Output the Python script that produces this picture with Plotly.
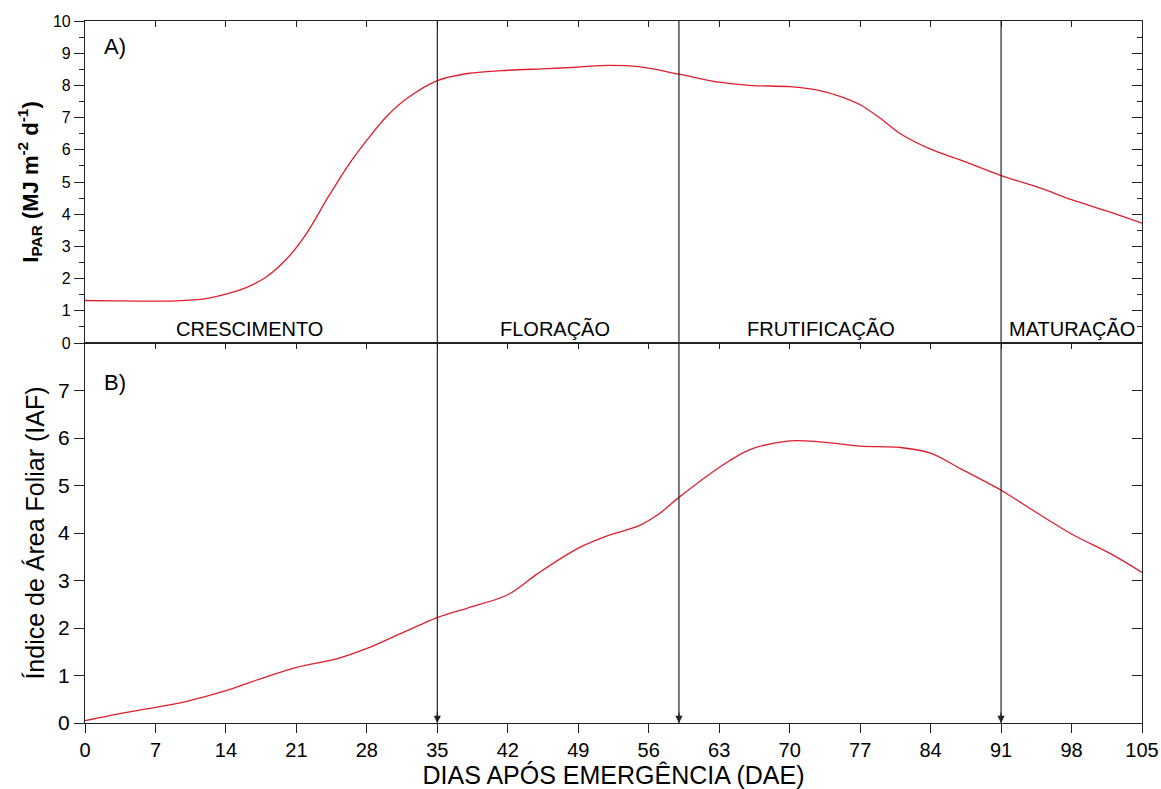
import plotly.graph_objects as go

# ---------------- data ----------------
days_a = [0, 3, 6, 9, 12, 14, 16, 18, 20, 22, 24, 26, 28, 30, 32, 35, 38, 42, 46, 49,
          52, 55, 59, 63, 66, 70, 73, 75, 77, 79, 81, 84, 87, 91, 95, 98, 102, 105]
ipar = [1.32, 1.31, 1.30, 1.31, 1.38, 1.52, 1.72, 2.05, 2.6, 3.4, 4.45, 5.45, 6.3, 7.05,
        7.6, 8.15, 8.37, 8.47, 8.52, 8.57, 8.62, 8.58, 8.35, 8.1, 8.0, 7.96, 7.84, 7.66,
        7.4, 6.98, 6.5, 6.02, 5.68, 5.2, 4.8, 4.45, 4.05, 3.72]

days_b = [0, 4, 7, 10, 14, 17, 21, 25, 28, 31, 35, 38, 42, 45, 49, 52, 55, 57, 59, 63, 66,
          70, 73, 77, 81, 84, 87, 91, 94, 98, 102, 105]
iaf = [0.05, 0.22, 0.33, 0.45, 0.68, 0.9, 1.17, 1.35, 1.57, 1.85, 2.22, 2.42, 2.7, 3.15,
       3.68, 3.95, 4.15, 4.4, 4.75, 5.38, 5.75, 5.94, 5.92, 5.83, 5.8, 5.68, 5.35, 4.9,
       4.5, 3.98, 3.55, 3.17]

phase_bounds = [35, 59, 91]
phase_labels = ["CRESCIMENTO", "FLORAÇÃO", "FRUTIFICAÇÃO", "MATURAÇÃO"]
phase_label_x = [16.3, 46.7, 73.1, 98.0]
x_ticks = list(range(0, 106, 7))
ya_ticks = list(range(0, 11))
yb_ticks = list(range(0, 8))

# ---------------- figure ----------------
RED = "rgb(222,30,45)"
AX = "#222"
FONT = "Liberation Sans, Arial, sans-serif"
split = 380 / 702

fig = go.Figure()
fig.add_trace(go.Scatter(x=days_a, y=ipar, mode="lines", xaxis="x2", yaxis="y2",
                         line=dict(color=RED, width=1.3, shape="spline", smoothing=0.9),
                         showlegend=False, hoverinfo="skip"))
fig.add_trace(go.Scatter(x=days_b, y=iaf, mode="lines", xaxis="x", yaxis="y",
                         line=dict(color=RED, width=1.3, shape="spline", smoothing=0.9),
                         showlegend=False, hoverinfo="skip"))
# dummy traces for mirrored (inside-tick) axes
for xa, ya in [("x3", "y"), ("x", "y3"), ("x4", "y2"), ("x2", "y4")]:
    fig.add_trace(go.Scatter(x=[None], y=[None], xaxis=xa, yaxis=ya,
                             showlegend=False, hoverinfo="skip"))

common_x = dict(range=[0, 105], tickvals=x_ticks, showline=True, linecolor=AX,
                linewidth=1.2, showgrid=False, zeroline=False, tickcolor=AX,
                tickwidth=1.2, automargin=False)
common_y = dict(showline=True, linecolor=AX, linewidth=1.2, showgrid=False,
                zeroline=False, tickcolor=AX, tickwidth=1.2, automargin=False)

fig.update_layout(
    width=1161, height=789,
    margin=dict(l=85, r=19, t=21, b=66),
    paper_bgcolor="white", plot_bgcolor="white",
    font=dict(family=FONT, color="black"),
    xaxis=dict(**common_x, anchor="y", ticks="outside", ticklen=9,
               tickfont=dict(size=20),
               title=dict(text="DIAS APÓS EMERGÊNCIA (DAE)", font=dict(size=25),
                          standoff=2)),
    xaxis3=dict(**common_x, anchor="y", overlaying="x", side="top", ticks="inside",
                ticklen=6, showticklabels=False),
    xaxis2=dict(**common_x, anchor="y2", matches="x", ticks="", showticklabels=False),
    xaxis4=dict(**common_x, anchor="y2", overlaying="x2", side="top", ticks="inside",
                ticklen=6, showticklabels=False),
    yaxis=dict(**common_y, domain=[0, split], range=[0, 8], tickvals=yb_ticks,
               anchor="x", ticks="outside", ticklen=10, tickfont=dict(size=21),
               title=dict(text="Índice de Área Foliar (IAF)", font=dict(size=25),
                          standoff=6)),
    yaxis3=dict(**common_y, range=[0, 8], tickvals=yb_ticks, anchor="x",
                overlaying="y", side="right", ticks="inside", ticklen=10,
                showticklabels=False),
    yaxis2=dict(**common_y, domain=[split, 1], range=[0, 10], tickvals=ya_ticks,
                anchor="x2", ticks="outside", ticklen=10, tickfont=dict(size=16),
                minor=dict(ticks="outside", dtick=0.5, tick0=0, ticklen=5,
                           tickcolor=AX, tickwidth=1.2, showgrid=False),
                title=dict(text="<b>I<sub>PAR</sub> (MJ m<sup>-2</sup> d<sup>-1</sup>)</b>",
                           font=dict(size=22), standoff=8)),
    yaxis4=dict(**common_y, range=[0, 10], tickvals=ya_ticks, anchor="x2",
                overlaying="y2", side="right", ticks="inside", ticklen=10,
                showticklabels=False,
                minor=dict(ticks="inside", dtick=0.5, tick0=0, ticklen=5,
                           tickcolor=AX, tickwidth=1.2, showgrid=False)),
)

# phase boundary lines with arrowheads
for b in phase_bounds:
    fig.add_shape(type="line", xref="x", yref="paper", x0=b, x1=b, y0=0, y1=1,
                  line=dict(color=AX, width=1.2))
    fig.add_annotation(x=b, y=0, xref="x", yref="y", ax=0, ay=-12, showarrow=True,
                       arrowhead=2, arrowsize=1.2, arrowwidth=1.2, arrowcolor=AX,
                       standoff=0, text="")

# phase labels
for lab, lx in zip(phase_labels, phase_label_x):
    fig.add_annotation(x=lx, y=0.45, xref="x2", yref="y2", text=lab, showarrow=False,
                       font=dict(size=20, family=FONT), xanchor="center", yanchor="middle")

fig.add_annotation(x=1.7, y=9.2, xref="x2", yref="y2", text="A)", showarrow=False,
                   font=dict(size=22), xanchor="left", yanchor="middle")
fig.add_annotation(x=1.7, y=7.16, xref="x", yref="y", text="B)", showarrow=False,
                   font=dict(size=22), xanchor="left", yanchor="middle")

fig.write_html("out.html")
